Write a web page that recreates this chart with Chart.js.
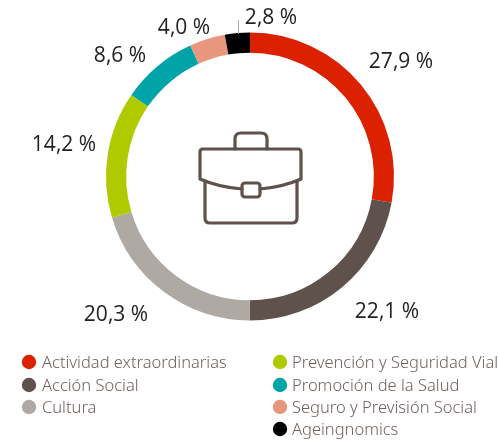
<!DOCTYPE html>
<html><head><meta charset="utf-8">
<style>html,body{margin:0;padding:0;background:#fff}#w{position:relative;width:499px;height:442px}canvas{display:block}</style>
<script src="https://cdn.jsdelivr.net/npm/chart.js@4"></script></head>
<body><div id="w"><canvas id="c" width="499" height="442"></canvas></div>
<script>
const categories=["Actividad extraordinarias","Acción Social","Cultura","Prevención y Seguridad Vial","Promoción de la Salud","Seguro y Previsión Social","Ageingnomics"];
const shares=[27.9,22.1,20.3,14.2,8.6,4.0,2.8];
const shareLabels=["27,9 %","22,1 %","20,3 %","14,2 %","8,6 %","4,0 %","2,8 %"];
const colors=["#DB2100","#5F514C","#AEA9A2","#AFCB00","#00A4A8","#E8967E","#000000"];
const labelCenters=[[401,62],[387,312],[116,315],[64,145],[120,56],[184,28],[271,18]];
const legendSlots=[[29,362],[29,385],[29,407],[280,362],[280,385],[280,407],[280,429]];
const TEXT='#6E625D', F='"Noto Sans"';
const deco={id:'deco',afterDraw(ch){
 const x=ch.ctx;x.save();
 x.textBaseline='middle';x.textAlign='center';x.fillStyle='#222';x.font='400 21px "Open Sans"';
 shareLabels.forEach((t,i)=>x.fillText(t,labelCenters[i][0],labelCenters[i][1]));
 x.strokeStyle='#AEA9A2';x.lineWidth=1;x.beginPath();x.moveTo(238.5,20);x.lineTo(238.5,34);x.stroke();
 // briefcase icon
 x.strokeStyle='#5F514C';x.lineWidth=3.2;x.lineJoin='round';x.lineCap='round';
 x.beginPath();x.moveTo(235,149);x.lineTo(235,139);x.quadraticCurveTo(235,133,241,133);x.lineTo(261,133);x.quadraticCurveTo(267,133,267,139);x.lineTo(267,149);x.stroke();
 x.beginPath();x.moveTo(242,189);x.quadraticCurveTo(218,187,200,179);x.lineTo(200,152);x.quadraticCurveTo(200,149,203,149);x.lineTo(298,149);x.quadraticCurveTo(301,149,301,152);x.lineTo(301,179);x.quadraticCurveTo(283,187,260,189);x.stroke();
 x.beginPath();x.moveTo(205,181);x.lineTo(205,218);x.quadraticCurveTo(205,223,210,223);x.lineTo(292,223);x.quadraticCurveTo(297,223,297,218);x.lineTo(297,181);x.stroke();
 x.beginPath();x.roundRect(242,183,18,14,3);x.stroke();
 // legend
 x.textAlign='left';x.font='300 16.5px '+F;
 categories.forEach((t,i)=>{const [cx,cy]=legendSlots[i];
  x.fillStyle=colors[i];x.beginPath();x.arc(cx,cy,7.2,0,Math.PI*2);x.fill();
  x.fillStyle=TEXT;x.fillText(t,cx+(cx>100?12:13),cy+1);});
 x.restore();
}};
new Chart(document.getElementById('c'),{type:'doughnut',
 data:{labels:categories,datasets:[{data:shares,backgroundColor:colors,borderWidth:0}]},
 options:{responsive:false,animation:false,radius:144,cutout:'86%',rotation:0,
  layout:{padding:{left:1,right:0,top:0,bottom:89}},
  plugins:{legend:{display:false},tooltip:{enabled:false}}},
 plugins:[deco]});
</script></body></html>
